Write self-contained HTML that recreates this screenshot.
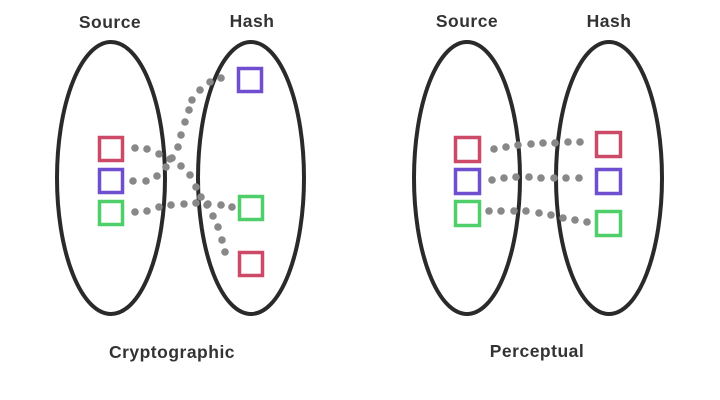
<!DOCTYPE html>
<html><head><meta charset="utf-8"><style>
html,body{margin:0;padding:0;background:#fff;width:720px;height:400px;overflow:hidden}
text{font-family:"Liberation Sans",sans-serif;font-weight:bold;fill:#333;font-size:17.5px;letter-spacing:0.5px}
</style></head><body>
<svg width="720" height="400" xmlns="http://www.w3.org/2000/svg">
<g fill="none" stroke="#2a2a2a" stroke-width="4">
<ellipse cx="111" cy="178" rx="54" ry="136"/>
<ellipse cx="251" cy="178" rx="53" ry="136"/>
<ellipse cx="467" cy="178" rx="53" ry="136"/>
<ellipse cx="609" cy="178" rx="53" ry="136"/>
</g>
<g fill="#888">
<circle cx="135" cy="148" r="3.8"/><circle cx="147" cy="149" r="3.8"/><circle cx="159" cy="154" r="3.8"/><circle cx="170" cy="159" r="3.8"/><circle cx="181" cy="166" r="3.8"/><circle cx="190" cy="175" r="3.8"/><circle cx="196" cy="187" r="3.8"/><circle cx="201" cy="197" r="3.8"/><circle cx="207" cy="205" r="3.8"/><circle cx="213" cy="216" r="3.8"/><circle cx="218" cy="227" r="3.8"/><circle cx="222" cy="240" r="3.8"/><circle cx="225" cy="252" r="3.8"/>
<circle cx="133" cy="181" r="3.8"/><circle cx="146" cy="181" r="3.8"/><circle cx="157" cy="176" r="3.8"/><circle cx="166" cy="167" r="3.8"/><circle cx="172" cy="158" r="3.8"/><circle cx="178" cy="147" r="3.8"/><circle cx="181" cy="135" r="3.8"/><circle cx="185" cy="122" r="3.8"/><circle cx="189" cy="110" r="3.8"/><circle cx="192" cy="100" r="3.8"/><circle cx="200" cy="90" r="3.8"/><circle cx="210" cy="82" r="3.8"/><circle cx="221" cy="78" r="3.8"/>
<circle cx="135" cy="212" r="3.8"/><circle cx="147" cy="211" r="3.8"/><circle cx="159" cy="207" r="3.8"/><circle cx="171" cy="205" r="3.8"/><circle cx="184" cy="204" r="3.8"/><circle cx="196" cy="203" r="3.8"/><circle cx="208" cy="204" r="3.8"/><circle cx="221" cy="205" r="3.8"/><circle cx="232" cy="207" r="3.8"/>
<circle cx="494" cy="149" r="3.8"/><circle cx="506" cy="147" r="3.8"/><circle cx="518" cy="145" r="3.8"/><circle cx="531" cy="144" r="3.8"/><circle cx="543" cy="143" r="3.8"/><circle cx="555" cy="143" r="3.8"/><circle cx="568" cy="142" r="3.8"/><circle cx="580" cy="142" r="3.8"/>
<circle cx="492" cy="180" r="3.8"/><circle cx="504" cy="178" r="3.8"/><circle cx="516" cy="177" r="3.8"/><circle cx="529" cy="177" r="3.8"/><circle cx="541" cy="178" r="3.8"/><circle cx="554" cy="178" r="3.8"/><circle cx="566" cy="178" r="3.8"/><circle cx="579" cy="178" r="3.8"/>
<circle cx="489" cy="211" r="3.8"/><circle cx="501" cy="211" r="3.8"/><circle cx="514" cy="211" r="3.8"/><circle cx="526" cy="211" r="3.8"/><circle cx="539" cy="213" r="3.8"/><circle cx="551" cy="215" r="3.8"/><circle cx="563" cy="218" r="3.8"/><circle cx="575" cy="220" r="3.8"/><circle cx="587" cy="222" r="3.8"/>
</g>
<g fill="none" stroke-width="3.5">
<rect x="99.5" y="137.5" width="23" height="23" stroke="#cc4a68"/>
<rect x="99.5" y="169.5" width="23" height="23" stroke="#6f4fd0"/>
<rect x="99.5" y="201.5" width="23" height="23" stroke="#4fcf6a"/>
<rect x="238.5" y="68.5" width="23" height="23" stroke="#6f4fd0"/>
<rect x="239.5" y="196.5" width="23" height="23" stroke="#4fcf6a"/>
<rect x="239.5" y="252.5" width="23" height="23" stroke="#cc4a68"/>
<rect x="455.5" y="137.5" width="24" height="24" stroke="#cc4a68"/>
<rect x="455.5" y="169.5" width="24" height="24" stroke="#6f4fd0"/>
<rect x="455.5" y="201.5" width="24" height="24" stroke="#4fcf6a"/>
<rect x="596.5" y="132.5" width="24" height="24" stroke="#cc4a68"/>
<rect x="596.5" y="169.5" width="24" height="24" stroke="#6f4fd0"/>
<rect x="596.5" y="211.5" width="24" height="24" stroke="#4fcf6a"/>
</g>
<text x="110" y="28" text-anchor="middle">Source</text>
<text x="252" y="27" text-anchor="middle">Hash</text>
<text x="467" y="27" text-anchor="middle">Source</text>
<text x="609" y="27" text-anchor="middle">Hash</text>
<text x="172" y="358" text-anchor="middle">Cryptographic</text>
<text x="537" y="357" text-anchor="middle">Perceptual</text>
</svg>
</body></html>
